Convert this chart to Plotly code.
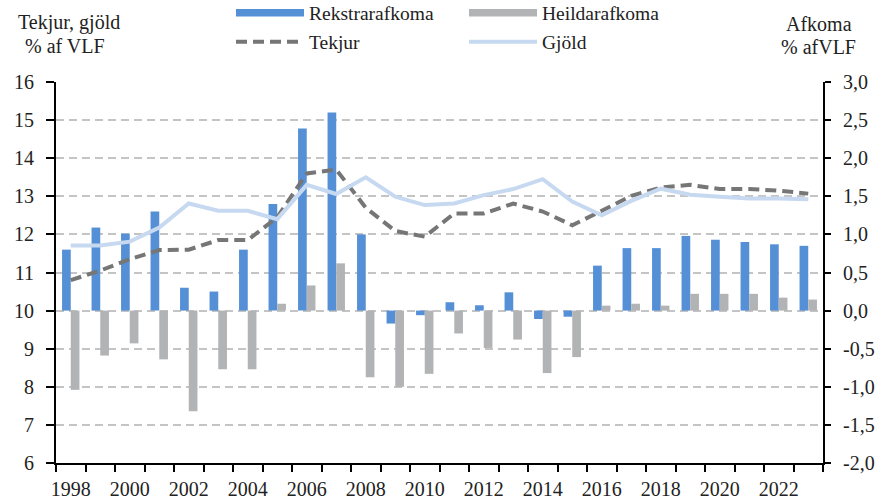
import plotly.graph_objects as go

# Ár (categories on the x axis)
years = list(range(1998, 2024))
label_years = years[::2]

# Afkoma, % af VLF (right axis)
rekstrarafkoma = [0.80, 1.09, 1.01, 1.30, 0.30, 0.25, 0.80, 1.40, 2.39, 2.60,
                  1.00, -0.17, -0.06, 0.11, 0.07, 0.24, -0.11, -0.08, 0.59, 0.82,
                  0.82, 0.98, 0.93, 0.90, 0.87, 0.85]
heildarafkoma = [-1.04, -0.59, -0.43, -0.64, -1.32, -0.77, -0.77, 0.09, 0.33, 0.62,
                 -0.875, -1.00, -0.83, -0.30, -0.49, -0.38, -0.82, -0.61, 0.065, 0.09,
                 0.065, 0.22, 0.22, 0.22, 0.17, 0.145]

# Tekjur og gjöld, % af VLF (left axis)
tekjur = [10.80, 11.05, 11.35, 11.59, 11.60, 11.85, 11.85, 12.45, 13.60, 13.70,
          12.70, 12.09, 11.94, 12.55, 12.55, 12.81, 12.60, 12.24, 12.62, 13.01,
          13.23, 13.30, 13.19, 13.19, 13.15, 13.07]
gjold = [11.71, 11.71, 11.81, 12.18, 12.81, 12.62, 12.62, 12.40, 13.30, 13.06,
         13.50, 12.99, 12.77, 12.81, 13.03, 13.19, 13.45, 12.86, 12.50, 12.88,
         13.20, 13.04, 12.99, 12.94, 12.94, 12.92]

# Axis ticks
left_ticks = list(range(6, 17))
right_ticks = [-2.0, -1.5, -1.0, -0.5, 0.0, 0.5, 1.0, 1.5, 2.0, 2.5, 3.0]
right_ticktext = [f"{v:.1f}".replace(".", ",") for v in right_ticks]

BLUE = "#5590D6"
GRAY = "#B2B3B5"
DARK = "#767676"
LIGHT = "#C6D9F0"
FONT = "Liberation Serif, Times New Roman, serif"

W, H = 878, 500
ML, MR, MT, MB = 56, 55, 82, 37


def cx(px):
    return px / W


def cy(py):
    return 1 - py / H


fig = go.Figure()

# Bars on the afkoma axis (primary y, drawn on the right)
fig.add_trace(go.Bar(x=years, y=rekstrarafkoma, name="Rekstrarafkoma",
                     marker=dict(color=BLUE, line=dict(width=0)),
                     yaxis="y", showlegend=False))
fig.add_trace(go.Bar(x=years, y=heildarafkoma, name="Heildarafkoma",
                     marker=dict(color=GRAY, line=dict(width=0)),
                     yaxis="y", showlegend=False))

# Lines on the tekjur/gjöld axis (overlaying, drawn on the left)
fig.add_trace(go.Scatter(x=years, y=tekjur, name="Tekjur", mode="lines",
                         line=dict(color=DARK, width=4, dash="11px,6px"),
                         yaxis="y2", legend="legend2"))
fig.add_trace(go.Scatter(x=years, y=gjold, name="Gjöld", mode="lines",
                         line=dict(color=LIGHT, width=4),
                         yaxis="y2", legend="legend2"))

# Wide swatches for the bar series in the top legend row
fig.add_trace(go.Scatter(x=[None], y=[None], name="Rekstrarafkoma", mode="lines",
                         line=dict(color=BLUE, width=7.5), yaxis="y",
                         legend="legend"))
fig.add_trace(go.Scatter(x=[None], y=[None], name="Heildarafkoma", mode="lines",
                         line=dict(color=GRAY, width=7.5), yaxis="y",
                         legend="legend"))

legend_common = dict(orientation="h", xanchor="left", yanchor="middle",
                     xref="container", yref="container",
                     itemwidth=68, entrywidth=150, entrywidthmode="pixels",
                     font=dict(family=FONT, size=19.5, color="#222222"),
                     bgcolor="rgba(0,0,0,0)", borderwidth=0,
                     tracegroupgap=0, itemclick=False, itemdoubleclick=False)

fig.update_layout(
    width=W, height=H,
    margin=dict(l=ML, r=MR, t=MT, b=MB, pad=0, autoexpand=False),
    paper_bgcolor="white", plot_bgcolor="white",
    font=dict(family=FONT, size=20, color="#222222"),
    barmode="group", bargap=0.41, bargroupgap=0,
    legend=dict(x=cx(231), y=cy(13), **legend_common),
    legend2=dict(x=cx(231), y=cy(42), **legend_common),
    xaxis=dict(
        range=[years[0] - 0.5, years[-1] + 0.5],
        tickmode="array", tickvals=label_years,
        ticktext=[str(y) for y in label_years],
        ticks="", showgrid=False, zeroline=False,
        showline=True, linecolor="black", linewidth=2,
        ticklabelstandoff=7,
        tickfont=dict(family=FONT, size=20, color="#222222"),
        minor=dict(tickmode="linear", tick0=years[0] - 0.5, dtick=1,
                   ticks="outside", ticklen=7, tickwidth=2,
                   tickcolor="black", showgrid=False),
    ),
    yaxis=dict(
        side="right", range=[-2, 3],
        tickmode="array", tickvals=right_ticks, ticktext=right_ticktext,
        ticks="outside", ticklen=6, tickwidth=2, tickcolor="black",
        showline=True, linecolor="black", linewidth=2,
        showgrid=True, gridcolor="#C4C4C4", gridwidth=1.6, griddash="8px,5px",
        zeroline=False, ticklabelstandoff=8,
        tickfont=dict(family=FONT, size=20, color="#222222"),
    ),
    yaxis2=dict(
        overlaying="y", side="left", range=[6, 16],
        tickmode="array", tickvals=left_ticks,
        ticks="outside", ticklen=8, tickwidth=2, tickcolor="black",
        showline=True, linecolor="black", linewidth=2,
        showgrid=False, zeroline=False, ticklabelstandoff=8,
        tickfont=dict(family=FONT, size=20, color="#222222"),
    ),
)

# Axis titles
titles = [
    ("Tekjur, gjöld", 69, 23),
    ("% af VLF", 65, 46),
    ("Afkoma", 819, 24),
    ("% afVLF", 818, 47),
]
for text, tx, ty in titles:
    fig.add_annotation(text=text, xref="paper", yref="paper",
                       x=(tx - ML) / (W - ML - MR), y=(H - MB - ty) / (H - MT - MB),
                       xanchor="center", yanchor="middle", showarrow=False,
                       font=dict(family=FONT, size=20, color="#222222"))

fig.write_html("out.html")
